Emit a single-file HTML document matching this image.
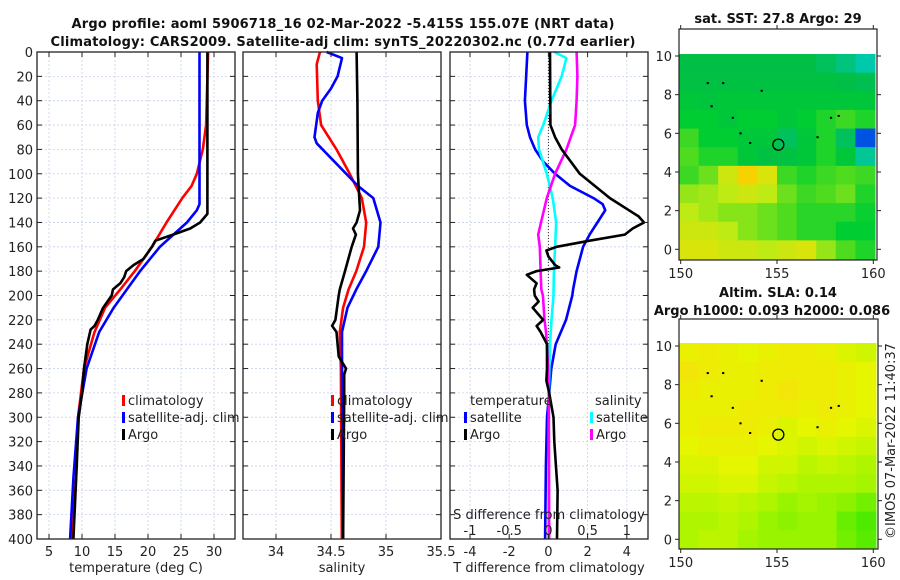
<!DOCTYPE html>
<html><head><meta charset="utf-8"><style>
body{margin:0;background:#fff}
svg{display:block;font-family:"DejaVu Sans","Liberation Sans",sans-serif}
.t{font-size:13px;fill:#222}
.b{font-size:13px;font-weight:bold;fill:#111}
</style></head><body>
<svg id="c" width="900" height="580" viewBox="0 0 900 580">
<text class="b" x="343" y="28" text-anchor="middle" textLength="543">Argo profile: aoml 5906718_16 02-Mar-2022 -5.415S 155.07E (NRT data)</text>
<text class="b" x="343" y="46" text-anchor="middle" textLength="585">Climatology: CARS2009. Satellite-adj clim: synTS_20220302.nc (0.77d earlier)</text>
<text class="b" x="778" y="23" text-anchor="middle">sat. SST: 27.8 Argo: 29</text>
<text class="b" x="778" y="297" text-anchor="middle">Altim. SLA: 0.14</text>
<text class="b" x="772" y="315" text-anchor="middle">Argo h1000: 0.093 h2000: 0.086</text>
<text class="t" transform="translate(895,441) rotate(-90)" text-anchor="middle">©IMOS 07-Mar-2022 11:40:37</text>
<g id="g"></g>
</svg>
<script>
// depth levels (dbar)
const argoDepth=[0,60,130,133,140,145,150,155,160,170,175,180,185,190,195,200,210,220,225,228,240,260,280,300,340,400];
const argoTemp=[29.0,29.0,29.0,29.0,27.9,26.4,23.8,21.1,20.6,19.3,17.8,16.7,16.4,15.8,14.7,14.5,13.2,12.4,11.9,11.3,10.8,10.3,10.0,9.5,9.2,8.7];
const climDepth=[0,60,80,100,110,120,140,160,180,195,210,230,260,300,350,400];
const climTemp=[29.1,28.8,28.3,27.4,26.6,25.2,22.8,20.6,18.0,15.8,13.5,11.9,10.3,9.4,9.1,8.4];
const satDepth=[0,125,130,140,160,180,195,210,230,260,300,350,400];
const satTemp=[27.8,27.8,27.4,25.9,21.8,18.8,16.8,14.8,12.6,10.7,9.4,8.7,8.2];
const argoSDepth=[0,40,100,130,140,145,150,160,180,195,200,220,225,230,250,260,265,280,400];
const argoSal=[34.733,34.74,34.745,34.764,34.733,34.70,34.726,34.688,34.627,34.58,34.57,34.54,34.51,34.55,34.57,34.636,34.62,34.62,34.61];
const climSDepth=[0,10,40,60,80,100,120,140,160,180,195,210,230,260,400];
const climSal=[34.40,34.37,34.38,34.41,34.55,34.67,34.78,34.82,34.80,34.73,34.66,34.61,34.58,34.59,34.598];
const satSDepth=[0,5,20,30,40,50,70,75,110,120,140,160,180,195,210,230,260,400];
const satSal=[34.46,34.60,34.56,34.50,34.42,34.38,34.35,34.37,34.745,34.885,34.95,34.93,34.82,34.73,34.65,34.60,34.60,34.61];
const tdArgoDepth=[0,60,70,80,100,120,135,140,145,150,155,160,163,168,175,177,180,183,190,195,200,205,210,220,225,230,240,260,270,280,300,320,360,400];
const tdArgo=[0.08,0.1,0.34,0.68,1.6,3.14,4.6,4.88,4.3,3.9,2.1,0.42,-0.1,0,0.34,0.55,-0.6,-1.1,-0.6,-0.73,-0.7,-0.5,-0.8,-0.27,-0.6,-0.4,-0.07,-0.07,-0.1,0.04,0.26,0.3,0.47,0.44];
const tdSatDepth=[0,40,60,70,80,90,100,110,120,125,130,140,150,160,180,195,200,220,240,260,280,300,340,400];
const tdSat=[-1.07,-1.2,-1.1,-0.94,-0.68,-0.26,0.34,1.1,2.3,2.77,2.9,2.5,2.1,1.77,1.44,1.26,1.22,0.9,0.37,0.15,0.04,-0.07,-0.13,-0.17];
const sdSatDepth=[0,5,20,40,60,70,80,100,120,140,160,180,200,220,240,280,400];
const sdSat=[0.075,0.23,0.17,0.04,-0.065,-0.13,-0.12,-0.02,0.055,0.1,0.085,0.07,0.065,0.04,0.02,0.005,0];
const sdArgoDepth=[0,20,40,60,80,100,120,140,150,160,180,195,200,220,230,250,280,400];
const sdArgo=[0.36,0.37,0.36,0.34,0.23,0.085,-0.02,-0.095,-0.13,-0.11,-0.1,-0.09,-0.07,-0.05,-0.03,-0.01,0.005,0.01];
const depthTicks=[0,20,40,60,80,100,120,140,160,180,200,220,240,260,280,300,320,340,360,380,400];
const tempTicks=[5,10,15,20,25,30];
const salTicks=[34,34.5,35,35.5];
const salTickLabels=["34","34.5","35","35.5"];
const tdTicks=[-4,-2,0,2,4];
const sdTicks=[-1,-0.5,0,0.5,1];
const sdTickLabels=["-1","-0.5","0","0.5","1"];
const latTicks=[0,2,4,6,8,10];
const lonTicks=[150,155,160];
// SST map values (rows lat 10 -> -0.5, cols lon 150 -> 160), 0=blue .5=green .75=yellow
const sstGrid=[
[0.47,0.47,0.47,0.47,0.47,0.47,0.47,0.45,0.42,0.38],
[0.48,0.48,0.48,0.48,0.48,0.48,0.48,0.48,0.47,0.46],
[0.50,0.49,0.50,0.50,0.50,0.50,0.50,0.50,0.50,0.50],
[0.52,0.52,0.50,0.52,0.52,0.50,0.52,0.55,0.58,0.55],
[0.58,0.52,0.52,0.50,0.50,0.45,0.50,0.55,0.45,0.15],
[0.60,0.55,0.55,0.50,0.48,0.48,0.50,0.55,0.50,0.40],
[0.58,0.62,0.70,0.78,0.72,0.58,0.55,0.58,0.60,0.58],
[0.65,0.66,0.68,0.70,0.68,0.62,0.58,0.60,0.62,0.55],
[0.68,0.66,0.64,0.64,0.62,0.60,0.56,0.56,0.56,0.53],
[0.70,0.70,0.68,0.64,0.62,0.60,0.56,0.56,0.52,0.52],
[0.72,0.72,0.70,0.70,0.68,0.70,0.72,0.65,0.60,0.55]];
// SLA map values 0=green 1=orange-yellow
const slaGrid=[
[0.85,0.90,0.85,0.80,0.85,0.90,0.90,0.85,0.75,0.70],
[0.95,0.90,0.85,0.85,0.90,0.90,0.90,0.90,0.85,0.80],
[0.90,0.85,0.85,0.85,0.90,0.95,0.90,0.90,0.85,0.80],
[0.85,0.85,0.85,0.90,0.90,0.90,0.85,0.90,0.85,0.80],
[0.85,0.90,0.90,0.90,0.85,0.75,0.80,0.85,0.80,0.75],
[0.80,0.85,0.85,0.85,0.80,0.75,0.70,0.75,0.70,0.65],
[0.75,0.75,0.80,0.80,0.70,0.70,0.60,0.65,0.60,0.55],
[0.70,0.70,0.75,0.75,0.65,0.60,0.55,0.55,0.55,0.50],
[0.60,0.60,0.65,0.60,0.55,0.45,0.50,0.45,0.40,0.30],
[0.55,0.55,0.60,0.55,0.45,0.40,0.45,0.45,0.25,0.15],
[0.55,0.60,0.60,0.50,0.45,0.45,0.45,0.45,0.30,0.20]];
const argoLon=[155.07];
const argoLat=[5.415];

const NS="http://www.w3.org/2000/svg";
const G=document.getElementById('g');
function el(tag,attrs,parent){const e=document.createElementNS(NS,tag);for(const k in attrs)e.setAttribute(k,attrs[k]);(parent||G).appendChild(e);return e;}
function txt(s,x,y,anchor,cls,parent){const e=el('text',{x:x,y:y,'text-anchor':anchor||'start','class':cls||'t'},parent);e.textContent=s;return e;}
const yD=d=>52+d*1.2175;
const xT=v=>49+(v-5)*6.6;
const xS=v=>276+(v-34)*110;
const xTD=v=>548.4+v*19.6;
const xSD=v=>548.4+v*78.4;
const panels=[{x0:37,x1:235,name:'temperature'},{x0:243,x1:441,name:'salinity'},{x0:450,x1:648,name:'difference'}];

function vgrid(xs){for(const x of xs){const l=el('line',{x1:x,x2:x,y1:52,y2:539,stroke:'#c8d0ee','stroke-width':0.8,'stroke-dasharray':'2,2'});

}}
panels.forEach(p=>{for(const d of depthTicks){const l=el('line',{x1:p.x0,x2:p.x1,y1:yD(d),y2:yD(d),stroke:'#c8d0ee','stroke-width':0.8,'stroke-dasharray':'2,2'});

}});
vgrid(tempTicks.map(xT));vgrid(salTicks.map(xS));vgrid(tdTicks.map(xTD));
const zl=el('line',{x1:xTD(0),x2:xTD(0),y1:52,y2:539,stroke:'#333','stroke-width':1,'stroke-dasharray':'1,2'});



function series(ds,vs,xf,color,name){const pts=ds.map((d,i)=>xf(vs[i]).toFixed(1)+','+yD(d).toFixed(1)).join(' ');
const l=el('polyline',{points:pts,fill:'none',stroke:color,'stroke-width':2.6,'stroke-linejoin':'round'});

}
series(climDepth,climTemp,xT,'#f00','temp-climatology-line');
series(satDepth,satTemp,xT,'#00f','temp-satellite-line');
series(argoDepth,argoTemp,xT,'#000','temp-argo-line');
series(climSDepth,climSal,xS,'#f00','sal-climatology-line');
series(satSDepth,satSal,xS,'#00f','sal-satellite-line');
series(argoSDepth,argoSal,xS,'#000','sal-argo-line');
series(tdSatDepth,tdSat,xTD,'#00f','tdiff-satellite-line');
series(sdSatDepth,sdSat,xSD,'#0ff','sdiff-satellite-line');
series(sdArgoDepth,sdArgo,xSD,'#f0f','sdiff-argo-line');
series(tdArgoDepth,tdArgo,xTD,'#000','tdiff-argo-line');

panels.forEach(p=>{const r=el('rect',{x:p.x0,y:52,width:p.x1-p.x0,height:487,fill:'none',stroke:'#222','stroke-width':1.3});


for(const d of depthTicks){el('line',{x1:p.x0,x2:p.x0+5,y1:yD(d),y2:yD(d),stroke:'#222'});el('line',{x1:p.x1-5,x2:p.x1,y1:yD(d),y2:yD(d),stroke:'#222'});}});
for(const d of depthTicks){const t=txt(String(d),33,yD(d)+5,'end');

}
function xticks(vals,labels,xf,y){vals.forEach((v,i)=>{el('line',{x1:xf(v),x2:xf(v),y1:539,y2:534,stroke:'#222'});el('line',{x1:xf(v),x2:xf(v),y1:52,y2:57,stroke:'#222'});
const t=txt(labels[i],xf(v),y,'middle');

});}
xticks(tempTicks,tempTicks.map(String),xT,556);
xticks(salTicks,salTickLabels,xS,556);
xticks(tdTicks,tdTicks.map(String),xTD,556);
sdTicks.forEach((v,i)=>{const t=txt(sdTickLabels[i],xSD(v),535,'middle');

});
[['temperature (deg C)',136,'temperature-axis-title'],['salinity',342,'salinity-axis-title'],['T difference from climatology',549,'t-diff-axis-title']].forEach(a=>{const t=txt(a[0],a[1],572,'middle');

});
const sdt=txt('S difference from climatology',549,519,'middle');



function leg(x,y,color,label,name){el('rect',{x:x,y:y-10,width:3,height:11,fill:color});const t=txt(label,x+6,y,'start');

}
leg(122,405,'#f00','climatology','legend-climatology');
leg(122,422,'#00f','satellite-adj. clim','legend-satellite-adj');
leg(122,439,'#000','Argo','legend-argo');
leg(331,405,'#f00','climatology','legend-sal-climatology');
leg(331,422,'#00f','satellite-adj. clim','legend-sal-satellite-adj');
leg(331,439,'#000','Argo','legend-sal-argo');
const lt=txt('temperature',470,405,'start');


const ls=txt('salinity',595,405,'start');


leg(464,422,'#00f','satellite','legend-tdiff-satellite');
leg(464,439,'#000','Argo','legend-tdiff-argo');
leg(590,422,'#0ff','satellite','legend-sdiff-satellite');
leg(590,439,'#f0f','Argo','legend-sdiff-argo');

function lerp(st,v){v=Math.max(0,Math.min(1,v));for(let i=1;i<st.length;i++){if(v<=st[i][0]){const a=st[i-1],b=st[i],f=(v-a[0])/(b[0]-a[0]);return 'rgb('+[1,2,3].map(k=>Math.round(a[k]+(b[k]-a[k])*f)).join(',')+')';}}const l=st[st.length-1];return 'rgb('+l[1]+','+l[2]+','+l[3]+')';}
const sstStops=[[0,0,0,140],[0.2,0,110,255],[0.35,0,205,205],[0.47,0,190,70],[0.52,0,205,50],[0.6,80,220,30],[0.68,190,235,20],[0.76,245,220,0],[0.9,250,150,0]];
const slaStops=[[0,40,230,0],[0.5,165,245,0],[0.8,230,245,0],[1,245,225,10]];
function map(grid,stops,x0,y0,w,h,box,latY,lonX,name){
const rows=grid.length,cols=grid[0].length,cw=w/cols,ch=h/rows;
el('rect',{x:box[0],y:box[1],width:box[2],height:box[3],fill:'#fff'});
grid.forEach((row,i)=>row.forEach((v,j)=>{const r=el('rect',{x:(x0+j*cw).toFixed(2),y:(y0+i*ch).toFixed(2),width:(cw+0.5).toFixed(2),height:(ch+0.5).toFixed(2),fill:lerp(stops,v)});

}));
const b=el('rect',{x:box[0],y:box[1],width:box[2],height:box[3],fill:'none',stroke:'#222','stroke-width':1.2});


for(const la of latTicks){const y=latY(la);el('line',{x1:box[0]-4,x2:box[0],y1:y,y2:y,stroke:'#222'});el('line',{x1:box[0]+box[2],x2:box[0]+box[2]+4,y1:y,y2:y,stroke:'#222'});
const t=txt(String(la),672,y+5,'end');

}
for(const lo of lonTicks){const x=lonX(lo);el('line',{x1:x,x2:x,y1:box[1]+box[3],y2:box[1]+box[3]+4,stroke:'#222'});el('line',{x1:x,x2:x,y1:box[1]-4,y2:box[1],stroke:'#222'});
const t=txt(String(lo),x,box[1]+box[3]+18,'middle');

}
const c=el('circle',{cx:lonX(argoLon[0]),cy:latY(argoLat[0]),r:5.5,fill:'none',stroke:'#000','stroke-width':1.3});


[[151.6,7.4],[151.4,8.6],[152.2,8.6],[154.2,8.2],[152.7,6.8],[153.6,5.5],[158.2,6.9],[157.1,5.8],[153.1,6.0],[157.8,6.8]].forEach(p=>{el('rect',{x:lonX(p[0])-1,y:latY(p[1])-1,width:2.2,height:2,fill:'#000'});});
}
const lonX=lo=>680.7+(lo-150)*19.26;
map(sstGrid,sstStops,679,54,196,205,[679,29,198,231],la=>249.3-la*19.33,lonX,'sst-map');
map(slaGrid,slaStops,679,343,197,206,[679,319,199,230],la=>539.3-la*19.33,lonX,'sla-map');
</script>
</body></html>
